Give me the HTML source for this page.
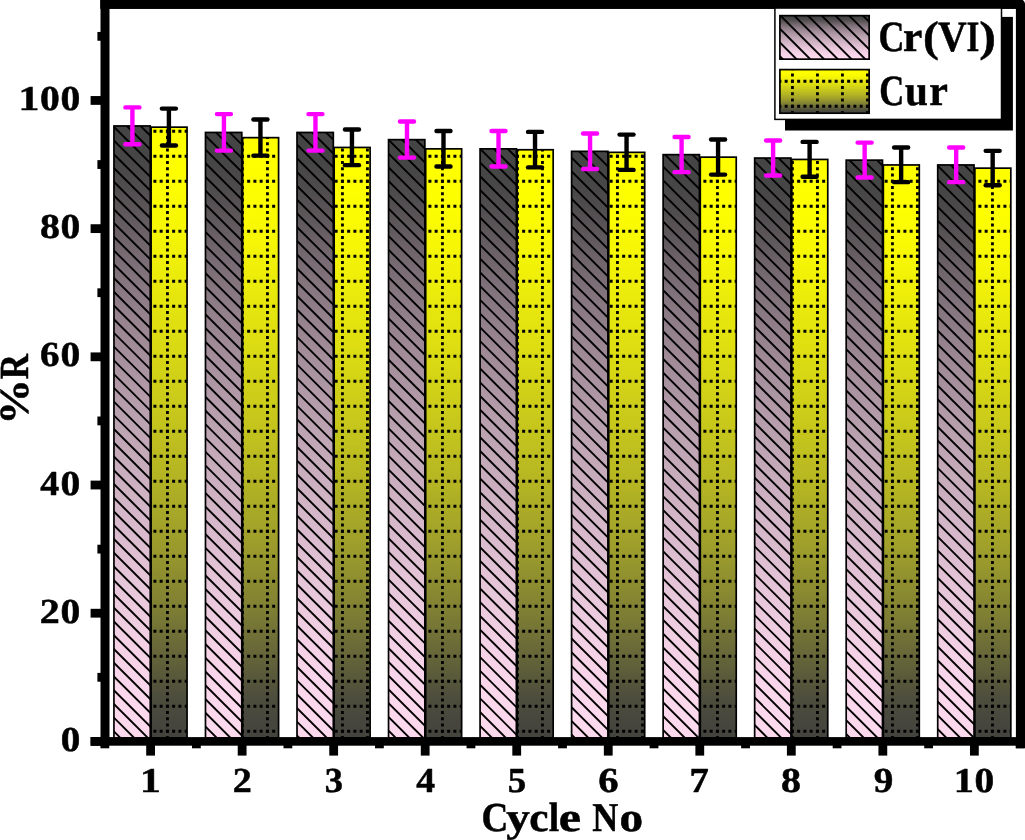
<!DOCTYPE html>
<html><head><meta charset="utf-8"><title>Cycle No vs %R</title>
<style>html,body{margin:0;padding:0;background:#fff;}body{width:1025px;height:840px;overflow:hidden;font-family:"Liberation Serif",serif;}svg{display:block;}text{font-family:"Liberation Serif",serif;font-weight:bold;fill:#000;text-rendering:geometricPrecision;}</style>
</head><body>
<svg width="1025" height="840" viewBox="0 0 1025 840">
<defs>
<linearGradient id="gcr" x1="0" y1="0" x2="0" y2="1">
<stop offset="0.0000" stop-color="#444444"/>
<stop offset="0.0250" stop-color="#454545"/>
<stop offset="0.0500" stop-color="#474646"/>
<stop offset="0.0750" stop-color="#4b494a"/>
<stop offset="0.1000" stop-color="#504d4f"/>
<stop offset="0.1250" stop-color="#595356"/>
<stop offset="0.1500" stop-color="#60595d"/>
<stop offset="0.1750" stop-color="#6b6166"/>
<stop offset="0.2000" stop-color="#74686f"/>
<stop offset="0.2250" stop-color="#7c6e76"/>
<stop offset="0.2500" stop-color="#84757d"/>
<stop offset="0.2750" stop-color="#8b7a84"/>
<stop offset="0.3000" stop-color="#92808a"/>
<stop offset="0.3250" stop-color="#998590"/>
<stop offset="0.3500" stop-color="#9f8a96"/>
<stop offset="0.3750" stop-color="#a58f9c"/>
<stop offset="0.4000" stop-color="#aa94a1"/>
<stop offset="0.4250" stop-color="#b098a6"/>
<stop offset="0.4500" stop-color="#b59dab"/>
<stop offset="0.4750" stop-color="#baa1af"/>
<stop offset="0.5000" stop-color="#bea5b4"/>
<stop offset="0.5250" stop-color="#c3a8b8"/>
<stop offset="0.5500" stop-color="#c7acbc"/>
<stop offset="0.5750" stop-color="#cbafc0"/>
<stop offset="0.6000" stop-color="#cfb3c3"/>
<stop offset="0.6250" stop-color="#d3b6c7"/>
<stop offset="0.6500" stop-color="#d7b9cb"/>
<stop offset="0.6750" stop-color="#dbbcce"/>
<stop offset="0.7000" stop-color="#dfc0d2"/>
<stop offset="0.7250" stop-color="#e3c3d5"/>
<stop offset="0.7500" stop-color="#e6c6d9"/>
<stop offset="0.7750" stop-color="#eac9dc"/>
<stop offset="0.8000" stop-color="#edccdf"/>
<stop offset="0.8250" stop-color="#f1cfe2"/>
<stop offset="0.8500" stop-color="#f4d1e5"/>
<stop offset="0.8750" stop-color="#f6d3e7"/>
<stop offset="0.9000" stop-color="#f8d5ea"/>
<stop offset="0.9250" stop-color="#fbd7ec"/>
<stop offset="0.9500" stop-color="#fcd8ed"/>
<stop offset="0.9750" stop-color="#fdd9ee"/>
<stop offset="1.0000" stop-color="#fdd9ee"/>
</linearGradient>
<linearGradient id="gcu" x1="0" y1="0" x2="0" y2="1">
<stop offset="0.0000" stop-color="#ffff00"/>
<stop offset="0.0250" stop-color="#ffff00"/>
<stop offset="0.0500" stop-color="#fefe00"/>
<stop offset="0.0750" stop-color="#fefe01"/>
<stop offset="0.1000" stop-color="#fcfc02"/>
<stop offset="0.1250" stop-color="#fafa03"/>
<stop offset="0.1500" stop-color="#f8f804"/>
<stop offset="0.1750" stop-color="#f5f506"/>
<stop offset="0.2000" stop-color="#f1f108"/>
<stop offset="0.2250" stop-color="#eeee0a"/>
<stop offset="0.2500" stop-color="#eaea0c"/>
<stop offset="0.2750" stop-color="#e6e60d"/>
<stop offset="0.3000" stop-color="#e3e30f"/>
<stop offset="0.3250" stop-color="#dfdf11"/>
<stop offset="0.3500" stop-color="#dbdb13"/>
<stop offset="0.3750" stop-color="#d7d715"/>
<stop offset="0.4000" stop-color="#d2d217"/>
<stop offset="0.4250" stop-color="#cece19"/>
<stop offset="0.4500" stop-color="#caca1b"/>
<stop offset="0.4750" stop-color="#c5c51d"/>
<stop offset="0.5000" stop-color="#c1c11f"/>
<stop offset="0.5250" stop-color="#bcbc21"/>
<stop offset="0.5500" stop-color="#b8b822"/>
<stop offset="0.5750" stop-color="#b3b324"/>
<stop offset="0.6000" stop-color="#adad26"/>
<stop offset="0.6250" stop-color="#a8a828"/>
<stop offset="0.6500" stop-color="#a3a32a"/>
<stop offset="0.6750" stop-color="#9d9d2c"/>
<stop offset="0.7000" stop-color="#97972e"/>
<stop offset="0.7250" stop-color="#90902f"/>
<stop offset="0.7500" stop-color="#898931"/>
<stop offset="0.7750" stop-color="#828233"/>
<stop offset="0.8000" stop-color="#7a7a35"/>
<stop offset="0.8250" stop-color="#717137"/>
<stop offset="0.8500" stop-color="#696939"/>
<stop offset="0.8750" stop-color="#61613a"/>
<stop offset="0.9000" stop-color="#58583b"/>
<stop offset="0.9250" stop-color="#4f4f3d"/>
<stop offset="0.9500" stop-color="#4a4a3d"/>
<stop offset="0.9750" stop-color="#46463e"/>
<stop offset="1.0000" stop-color="#44443e"/>
</linearGradient>
<pattern id="grid" patternUnits="userSpaceOnUse" x="0" y="0" width="25" height="25">
<line x1="-2.85" y1="6.25" x2="30" y2="6.25" stroke="#000" stroke-width="2.8" stroke-dasharray="3 3.25"/>
<line x1="17.45" y1="-1.4" x2="17.45" y2="30" stroke="#000" stroke-width="2.8" stroke-dasharray="3 3.25"/>
</pattern>
</defs>
<rect x="0" y="0" width="1025" height="840" fill="#fff"/>
<rect x="113.95" y="125.95" width="36.30" height="612.05" fill="url(#gcr)"/>
<rect x="151.10" y="127.15" width="35.95" height="610.85" fill="url(#gcu)"/>
<rect x="151.10" y="127.15" width="35.95" height="610.85" fill="url(#grid)" stroke="#000" stroke-width="1.7"/>
<rect x="205.48" y="132.45" width="36.30" height="605.55" fill="url(#gcr)"/>
<rect x="242.63" y="137.65" width="35.95" height="600.35" fill="url(#gcu)"/>
<rect x="242.63" y="137.65" width="35.95" height="600.35" fill="url(#grid)" stroke="#000" stroke-width="1.7"/>
<rect x="297.01" y="132.45" width="36.30" height="605.55" fill="url(#gcr)"/>
<rect x="334.16" y="147.45" width="35.95" height="590.55" fill="url(#gcu)"/>
<rect x="334.16" y="147.45" width="35.95" height="590.55" fill="url(#grid)" stroke="#000" stroke-width="1.7"/>
<rect x="388.54" y="139.65" width="36.30" height="598.35" fill="url(#gcr)"/>
<rect x="425.69" y="148.85" width="35.95" height="589.15" fill="url(#gcu)"/>
<rect x="425.69" y="148.85" width="35.95" height="589.15" fill="url(#grid)" stroke="#000" stroke-width="1.7"/>
<rect x="480.07" y="148.85" width="36.30" height="589.15" fill="url(#gcr)"/>
<rect x="517.22" y="149.75" width="35.95" height="588.25" fill="url(#gcu)"/>
<rect x="517.22" y="149.75" width="35.95" height="588.25" fill="url(#grid)" stroke="#000" stroke-width="1.7"/>
<rect x="571.60" y="151.35" width="36.30" height="586.65" fill="url(#gcr)"/>
<rect x="608.75" y="152.35" width="35.95" height="585.65" fill="url(#gcu)"/>
<rect x="608.75" y="152.35" width="35.95" height="585.65" fill="url(#grid)" stroke="#000" stroke-width="1.7"/>
<rect x="663.13" y="154.65" width="36.30" height="583.35" fill="url(#gcr)"/>
<rect x="700.28" y="157.15" width="35.95" height="580.85" fill="url(#gcu)"/>
<rect x="700.28" y="157.15" width="35.95" height="580.85" fill="url(#grid)" stroke="#000" stroke-width="1.7"/>
<rect x="754.66" y="158.05" width="36.30" height="579.95" fill="url(#gcr)"/>
<rect x="791.81" y="159.45" width="35.95" height="578.55" fill="url(#gcu)"/>
<rect x="791.81" y="159.45" width="35.95" height="578.55" fill="url(#grid)" stroke="#000" stroke-width="1.7"/>
<rect x="846.19" y="160.15" width="36.30" height="577.85" fill="url(#gcr)"/>
<rect x="883.34" y="164.95" width="35.95" height="573.05" fill="url(#gcu)"/>
<rect x="883.34" y="164.95" width="35.95" height="573.05" fill="url(#grid)" stroke="#000" stroke-width="1.7"/>
<rect x="937.72" y="164.95" width="36.30" height="573.05" fill="url(#gcr)"/>
<rect x="974.87" y="168.15" width="35.95" height="569.85" fill="url(#gcu)"/>
<rect x="974.87" y="168.15" width="35.95" height="569.85" fill="url(#grid)" stroke="#000" stroke-width="1.7"/>
<clipPath id="crclip">
<rect x="113.95" y="125.95" width="36.30" height="612.05"/>
<rect x="205.48" y="132.45" width="36.30" height="605.55"/>
<rect x="297.01" y="132.45" width="36.30" height="605.55"/>
<rect x="388.54" y="139.65" width="36.30" height="598.35"/>
<rect x="480.07" y="148.85" width="36.30" height="589.15"/>
<rect x="571.60" y="151.35" width="36.30" height="586.65"/>
<rect x="663.13" y="154.65" width="36.30" height="583.35"/>
<rect x="754.66" y="158.05" width="36.30" height="579.95"/>
<rect x="846.19" y="160.15" width="36.30" height="577.85"/>
<rect x="937.72" y="164.95" width="36.30" height="573.05"/>
</clipPath>
<g clip-path="url(#crclip)" stroke="#000" stroke-width="1.9">
<line x1="974.5" y1="120.00" x2="980.0" y2="125.53"/>
<line x1="960.7" y1="120.00" x2="980.0" y2="139.27"/>
<line x1="946.9" y1="120.00" x2="980.0" y2="153.01"/>
<line x1="933.2" y1="120.00" x2="980.0" y2="166.75"/>
<line x1="919.4" y1="120.00" x2="980.0" y2="180.49"/>
<line x1="905.6" y1="120.00" x2="980.0" y2="194.23"/>
<line x1="891.9" y1="120.00" x2="980.0" y2="207.97"/>
<line x1="878.1" y1="120.00" x2="980.0" y2="221.71"/>
<line x1="864.3" y1="120.00" x2="980.0" y2="235.45"/>
<line x1="850.6" y1="120.00" x2="980.0" y2="249.19"/>
<line x1="836.8" y1="120.00" x2="980.0" y2="262.94"/>
<line x1="823.0" y1="120.00" x2="980.0" y2="276.68"/>
<line x1="809.2" y1="120.00" x2="980.0" y2="290.42"/>
<line x1="795.5" y1="120.00" x2="980.0" y2="304.16"/>
<line x1="781.7" y1="120.00" x2="980.0" y2="317.90"/>
<line x1="767.9" y1="120.00" x2="980.0" y2="331.64"/>
<line x1="754.2" y1="120.00" x2="980.0" y2="345.38"/>
<line x1="740.4" y1="120.00" x2="980.0" y2="359.12"/>
<line x1="726.6" y1="120.00" x2="980.0" y2="372.86"/>
<line x1="712.9" y1="120.00" x2="980.0" y2="386.60"/>
<line x1="699.1" y1="120.00" x2="980.0" y2="400.35"/>
<line x1="685.3" y1="120.00" x2="980.0" y2="414.09"/>
<line x1="671.6" y1="120.00" x2="980.0" y2="427.83"/>
<line x1="657.8" y1="120.00" x2="980.0" y2="441.57"/>
<line x1="644.0" y1="120.00" x2="980.0" y2="455.31"/>
<line x1="630.3" y1="120.00" x2="980.0" y2="469.05"/>
<line x1="616.5" y1="120.00" x2="980.0" y2="482.79"/>
<line x1="602.7" y1="120.00" x2="980.0" y2="496.53"/>
<line x1="589.0" y1="120.00" x2="980.0" y2="510.27"/>
<line x1="575.2" y1="120.00" x2="980.0" y2="524.01"/>
<line x1="561.4" y1="120.00" x2="980.0" y2="537.76"/>
<line x1="547.7" y1="120.00" x2="980.0" y2="551.50"/>
<line x1="533.9" y1="120.00" x2="980.0" y2="565.24"/>
<line x1="520.1" y1="120.00" x2="980.0" y2="578.98"/>
<line x1="506.4" y1="120.00" x2="980.0" y2="592.72"/>
<line x1="492.6" y1="120.00" x2="980.0" y2="606.46"/>
<line x1="478.8" y1="120.00" x2="980.0" y2="620.20"/>
<line x1="465.0" y1="120.00" x2="980.0" y2="633.94"/>
<line x1="451.3" y1="120.00" x2="980.0" y2="647.68"/>
<line x1="437.5" y1="120.00" x2="980.0" y2="661.42"/>
<line x1="423.7" y1="120.00" x2="980.0" y2="675.17"/>
<line x1="410.0" y1="120.00" x2="980.0" y2="688.91"/>
<line x1="396.2" y1="120.00" x2="980.0" y2="702.65"/>
<line x1="382.4" y1="120.00" x2="980.0" y2="716.39"/>
<line x1="368.7" y1="120.00" x2="980.0" y2="730.13"/>
<line x1="354.9" y1="120.00" x2="976.1" y2="740.00"/>
<line x1="341.1" y1="120.00" x2="962.4" y2="740.00"/>
<line x1="327.4" y1="120.00" x2="948.6" y2="740.00"/>
<line x1="313.6" y1="120.00" x2="934.8" y2="740.00"/>
<line x1="299.8" y1="120.00" x2="921.1" y2="740.00"/>
<line x1="286.1" y1="120.00" x2="907.3" y2="740.00"/>
<line x1="272.3" y1="120.00" x2="893.5" y2="740.00"/>
<line x1="258.5" y1="120.00" x2="879.7" y2="740.00"/>
<line x1="244.8" y1="120.00" x2="866.0" y2="740.00"/>
<line x1="231.0" y1="120.00" x2="852.2" y2="740.00"/>
<line x1="217.2" y1="120.00" x2="838.4" y2="740.00"/>
<line x1="203.5" y1="120.00" x2="824.7" y2="740.00"/>
<line x1="189.7" y1="120.00" x2="810.9" y2="740.00"/>
<line x1="175.9" y1="120.00" x2="797.1" y2="740.00"/>
<line x1="162.2" y1="120.00" x2="783.4" y2="740.00"/>
<line x1="148.4" y1="120.00" x2="769.6" y2="740.00"/>
<line x1="134.6" y1="120.00" x2="755.8" y2="740.00"/>
<line x1="120.8" y1="120.00" x2="742.1" y2="740.00"/>
<line x1="110.0" y1="122.91" x2="728.3" y2="740.00"/>
<line x1="110.0" y1="136.66" x2="714.5" y2="740.00"/>
<line x1="110.0" y1="150.40" x2="700.8" y2="740.00"/>
<line x1="110.0" y1="164.14" x2="687.0" y2="740.00"/>
<line x1="110.0" y1="177.88" x2="673.2" y2="740.00"/>
<line x1="110.0" y1="191.62" x2="659.5" y2="740.00"/>
<line x1="110.0" y1="205.36" x2="645.7" y2="740.00"/>
<line x1="110.0" y1="219.10" x2="631.9" y2="740.00"/>
<line x1="110.0" y1="232.84" x2="618.2" y2="740.00"/>
<line x1="110.0" y1="246.58" x2="604.4" y2="740.00"/>
<line x1="110.0" y1="260.32" x2="590.6" y2="740.00"/>
<line x1="110.0" y1="274.07" x2="576.9" y2="740.00"/>
<line x1="110.0" y1="287.81" x2="563.1" y2="740.00"/>
<line x1="110.0" y1="301.55" x2="549.3" y2="740.00"/>
<line x1="110.0" y1="315.29" x2="535.5" y2="740.00"/>
<line x1="110.0" y1="329.03" x2="521.8" y2="740.00"/>
<line x1="110.0" y1="342.77" x2="508.0" y2="740.00"/>
<line x1="110.0" y1="356.51" x2="494.2" y2="740.00"/>
<line x1="110.0" y1="370.25" x2="480.5" y2="740.00"/>
<line x1="110.0" y1="383.99" x2="466.7" y2="740.00"/>
<line x1="110.0" y1="397.73" x2="452.9" y2="740.00"/>
<line x1="110.0" y1="411.48" x2="439.2" y2="740.00"/>
<line x1="110.0" y1="425.22" x2="425.4" y2="740.00"/>
<line x1="110.0" y1="438.96" x2="411.6" y2="740.00"/>
<line x1="110.0" y1="452.70" x2="397.9" y2="740.00"/>
<line x1="110.0" y1="466.44" x2="384.1" y2="740.00"/>
<line x1="110.0" y1="480.18" x2="370.3" y2="740.00"/>
<line x1="110.0" y1="493.92" x2="356.6" y2="740.00"/>
<line x1="110.0" y1="507.66" x2="342.8" y2="740.00"/>
<line x1="110.0" y1="521.40" x2="329.0" y2="740.00"/>
<line x1="110.0" y1="535.14" x2="315.3" y2="740.00"/>
<line x1="110.0" y1="548.89" x2="301.5" y2="740.00"/>
<line x1="110.0" y1="562.63" x2="287.7" y2="740.00"/>
<line x1="110.0" y1="576.37" x2="274.0" y2="740.00"/>
<line x1="110.0" y1="590.11" x2="260.2" y2="740.00"/>
<line x1="110.0" y1="603.85" x2="246.4" y2="740.00"/>
<line x1="110.0" y1="617.59" x2="232.7" y2="740.00"/>
<line x1="110.0" y1="631.33" x2="218.9" y2="740.00"/>
<line x1="110.0" y1="645.07" x2="205.1" y2="740.00"/>
<line x1="110.0" y1="658.81" x2="191.3" y2="740.00"/>
<line x1="110.0" y1="672.55" x2="177.6" y2="740.00"/>
<line x1="110.0" y1="686.30" x2="163.8" y2="740.00"/>
<line x1="110.0" y1="700.04" x2="150.0" y2="740.00"/>
<line x1="110.0" y1="713.78" x2="136.3" y2="740.00"/>
<line x1="110.0" y1="727.52" x2="122.5" y2="740.00"/>
</g>
<rect x="113.95" y="125.95" width="36.30" height="612.05" fill="none" stroke="#000" stroke-width="1.7"/>
<rect x="205.48" y="132.45" width="36.30" height="605.55" fill="none" stroke="#000" stroke-width="1.7"/>
<rect x="297.01" y="132.45" width="36.30" height="605.55" fill="none" stroke="#000" stroke-width="1.7"/>
<rect x="388.54" y="139.65" width="36.30" height="598.35" fill="none" stroke="#000" stroke-width="1.7"/>
<rect x="480.07" y="148.85" width="36.30" height="589.15" fill="none" stroke="#000" stroke-width="1.7"/>
<rect x="571.60" y="151.35" width="36.30" height="586.65" fill="none" stroke="#000" stroke-width="1.7"/>
<rect x="663.13" y="154.65" width="36.30" height="583.35" fill="none" stroke="#000" stroke-width="1.7"/>
<rect x="754.66" y="158.05" width="36.30" height="579.95" fill="none" stroke="#000" stroke-width="1.7"/>
<rect x="846.19" y="160.15" width="36.30" height="577.85" fill="none" stroke="#000" stroke-width="1.7"/>
<rect x="937.72" y="164.95" width="36.30" height="573.05" fill="none" stroke="#000" stroke-width="1.7"/>
<g stroke="#ff00ff" stroke-width="4.4" stroke-linecap="round" fill="none">
<line x1="132.40" y1="107.38" x2="132.40" y2="144.32" stroke-linecap="butt"/>
<line x1="125.40" y1="107.38" x2="139.40" y2="107.38"/>
<line x1="125.40" y1="144.32" x2="139.40" y2="144.32"/>
</g>
<g stroke="#000" stroke-width="4.4" stroke-linecap="round" fill="none">
<line x1="168.90" y1="108.62" x2="168.90" y2="145.48" stroke-linecap="butt"/>
<line x1="161.90" y1="108.62" x2="175.90" y2="108.62"/>
<line x1="161.90" y1="145.48" x2="175.90" y2="145.48"/>
</g>
<g stroke="#ff00ff" stroke-width="4.4" stroke-linecap="round" fill="none">
<line x1="223.93" y1="114.08" x2="223.93" y2="150.62" stroke-linecap="butt"/>
<line x1="216.93" y1="114.08" x2="230.93" y2="114.08"/>
<line x1="216.93" y1="150.62" x2="230.93" y2="150.62"/>
</g>
<g stroke="#000" stroke-width="4.4" stroke-linecap="round" fill="none">
<line x1="260.43" y1="119.43" x2="260.43" y2="155.67" stroke-linecap="butt"/>
<line x1="253.43" y1="119.43" x2="267.43" y2="119.43"/>
<line x1="253.43" y1="155.67" x2="267.43" y2="155.67"/>
</g>
<g stroke="#ff00ff" stroke-width="4.4" stroke-linecap="round" fill="none">
<line x1="315.46" y1="114.08" x2="315.46" y2="150.62" stroke-linecap="butt"/>
<line x1="308.46" y1="114.08" x2="322.46" y2="114.08"/>
<line x1="308.46" y1="150.62" x2="322.46" y2="150.62"/>
</g>
<g stroke="#000" stroke-width="4.4" stroke-linecap="round" fill="none">
<line x1="351.96" y1="129.53" x2="351.96" y2="165.17" stroke-linecap="butt"/>
<line x1="344.96" y1="129.53" x2="358.96" y2="129.53"/>
<line x1="344.96" y1="165.17" x2="358.96" y2="165.17"/>
</g>
<g stroke="#ff00ff" stroke-width="4.4" stroke-linecap="round" fill="none">
<line x1="406.99" y1="121.49" x2="406.99" y2="157.61" stroke-linecap="butt"/>
<line x1="399.99" y1="121.49" x2="413.99" y2="121.49"/>
<line x1="399.99" y1="157.61" x2="413.99" y2="157.61"/>
</g>
<g stroke="#000" stroke-width="4.4" stroke-linecap="round" fill="none">
<line x1="443.49" y1="130.97" x2="443.49" y2="166.53" stroke-linecap="butt"/>
<line x1="436.49" y1="130.97" x2="450.49" y2="130.97"/>
<line x1="436.49" y1="166.53" x2="450.49" y2="166.53"/>
</g>
<g stroke="#ff00ff" stroke-width="4.4" stroke-linecap="round" fill="none">
<line x1="498.52" y1="130.97" x2="498.52" y2="166.53" stroke-linecap="butt"/>
<line x1="491.52" y1="130.97" x2="505.52" y2="130.97"/>
<line x1="491.52" y1="166.53" x2="505.52" y2="166.53"/>
</g>
<g stroke="#000" stroke-width="4.4" stroke-linecap="round" fill="none">
<line x1="535.02" y1="131.90" x2="535.02" y2="167.40" stroke-linecap="butt"/>
<line x1="528.02" y1="131.90" x2="542.02" y2="131.90"/>
<line x1="528.02" y1="167.40" x2="542.02" y2="167.40"/>
</g>
<g stroke="#ff00ff" stroke-width="4.4" stroke-linecap="round" fill="none">
<line x1="590.05" y1="133.55" x2="590.05" y2="168.95" stroke-linecap="butt"/>
<line x1="583.05" y1="133.55" x2="597.05" y2="133.55"/>
<line x1="583.05" y1="168.95" x2="597.05" y2="168.95"/>
</g>
<g stroke="#000" stroke-width="4.4" stroke-linecap="round" fill="none">
<line x1="626.55" y1="134.58" x2="626.55" y2="169.92" stroke-linecap="butt"/>
<line x1="619.55" y1="134.58" x2="633.55" y2="134.58"/>
<line x1="619.55" y1="169.92" x2="633.55" y2="169.92"/>
</g>
<g stroke="#ff00ff" stroke-width="4.4" stroke-linecap="round" fill="none">
<line x1="681.58" y1="136.94" x2="681.58" y2="172.16" stroke-linecap="butt"/>
<line x1="674.58" y1="136.94" x2="688.58" y2="136.94"/>
<line x1="674.58" y1="172.16" x2="688.58" y2="172.16"/>
</g>
<g stroke="#000" stroke-width="4.4" stroke-linecap="round" fill="none">
<line x1="718.08" y1="139.52" x2="718.08" y2="174.58" stroke-linecap="butt"/>
<line x1="711.08" y1="139.52" x2="725.08" y2="139.52"/>
<line x1="711.08" y1="174.58" x2="725.08" y2="174.58"/>
</g>
<g stroke="#ff00ff" stroke-width="4.4" stroke-linecap="round" fill="none">
<line x1="773.11" y1="140.45" x2="773.11" y2="175.45" stroke-linecap="butt"/>
<line x1="766.11" y1="140.45" x2="780.11" y2="140.45"/>
<line x1="766.11" y1="175.45" x2="780.11" y2="175.45"/>
</g>
<g stroke="#000" stroke-width="4.4" stroke-linecap="round" fill="none">
<line x1="809.61" y1="141.89" x2="809.61" y2="176.81" stroke-linecap="butt"/>
<line x1="802.61" y1="141.89" x2="816.61" y2="141.89"/>
<line x1="802.61" y1="176.81" x2="816.61" y2="176.81"/>
</g>
<g stroke="#ff00ff" stroke-width="4.4" stroke-linecap="round" fill="none">
<line x1="864.64" y1="142.61" x2="864.64" y2="177.49" stroke-linecap="butt"/>
<line x1="857.64" y1="142.61" x2="871.64" y2="142.61"/>
<line x1="857.64" y1="177.49" x2="871.64" y2="177.49"/>
</g>
<g stroke="#000" stroke-width="4.4" stroke-linecap="round" fill="none">
<line x1="901.14" y1="147.55" x2="901.14" y2="182.15" stroke-linecap="butt"/>
<line x1="894.14" y1="147.55" x2="908.14" y2="147.55"/>
<line x1="894.14" y1="182.15" x2="908.14" y2="182.15"/>
</g>
<g stroke="#ff00ff" stroke-width="4.4" stroke-linecap="round" fill="none">
<line x1="956.17" y1="147.55" x2="956.17" y2="182.15" stroke-linecap="butt"/>
<line x1="949.17" y1="147.55" x2="963.17" y2="147.55"/>
<line x1="949.17" y1="182.15" x2="963.17" y2="182.15"/>
</g>
<g stroke="#000" stroke-width="4.4" stroke-linecap="round" fill="none">
<line x1="992.67" y1="150.85" x2="992.67" y2="185.25" stroke-linecap="butt"/>
<line x1="985.67" y1="150.85" x2="999.67" y2="150.85"/>
<line x1="985.67" y1="185.25" x2="999.67" y2="185.25"/>
</g>
<g fill="#000">
<rect x="100.5" y="0" width="9" height="745.5"/>
<rect x="100.5" y="0" width="924.5" height="8.8"/>
<rect x="1015.9" y="0" width="12" height="748.2"/>
<rect x="90.6" y="737.1" width="935" height="8.6"/>
<rect x="90.6" y="737.00" width="11" height="8.8"/>
<rect x="90.6" y="608.81" width="11" height="8.8"/>
<rect x="90.6" y="480.62" width="11" height="8.8"/>
<rect x="90.6" y="352.43" width="11" height="8.8"/>
<rect x="90.6" y="224.24" width="11" height="8.8"/>
<rect x="90.6" y="96.05" width="11" height="8.8"/>
<rect x="97.4" y="672.90" width="4" height="8.8"/>
<rect x="97.4" y="544.72" width="4" height="8.8"/>
<rect x="97.4" y="416.52" width="4" height="8.8"/>
<rect x="97.4" y="288.33" width="4" height="8.8"/>
<rect x="97.4" y="160.14" width="4" height="8.8"/>
<rect x="97.4" y="31.95" width="4" height="8.8"/>
<rect x="146.20" y="744" width="8.8" height="11.6"/>
<rect x="237.73" y="744" width="8.8" height="11.6"/>
<rect x="329.26" y="744" width="8.8" height="11.6"/>
<rect x="420.79" y="744" width="8.8" height="11.6"/>
<rect x="512.32" y="744" width="8.8" height="11.6"/>
<rect x="603.85" y="744" width="8.8" height="11.6"/>
<rect x="695.38" y="744" width="8.8" height="11.6"/>
<rect x="786.91" y="744" width="8.8" height="11.6"/>
<rect x="878.44" y="744" width="8.8" height="11.6"/>
<rect x="969.97" y="744" width="8.8" height="11.6"/>
<rect x="100.43" y="744" width="8.8" height="4.3"/>
<rect x="191.97" y="744" width="8.8" height="4.3"/>
<rect x="283.50" y="744" width="8.8" height="4.3"/>
<rect x="375.02" y="744" width="8.8" height="4.3"/>
<rect x="466.56" y="744" width="8.8" height="4.3"/>
<rect x="558.09" y="744" width="8.8" height="4.3"/>
<rect x="649.62" y="744" width="8.8" height="4.3"/>
<rect x="741.15" y="744" width="8.8" height="4.3"/>
<rect x="832.68" y="744" width="8.8" height="4.3"/>
<rect x="924.21" y="744" width="8.8" height="4.3"/>
<rect x="1015.74" y="744" width="8.8" height="4.3"/>
</g>
<rect x="785" y="16.9" width="227.9" height="113.6" fill="#000"/>
<rect x="774.9" y="4" width="226.6" height="115.4" fill="#fff" stroke="#000" stroke-width="1.5"/>
<rect x="100.5" y="0" width="924.5" height="8.8" fill="#000"/>
<path d="M1022.8 0 L1025 0 L1025 3.4 Q1024.6 1.2 1022.8 0 Z" fill="#fff"/>
<rect x="779.90" y="15.65" width="89.25" height="43.50" fill="url(#gcr)"/>
<clipPath id="lgclip"><rect x="779.90" y="15.65" width="89.25" height="43.50"/></clipPath>
<g clip-path="url(#lgclip)" stroke="#000" stroke-width="1.9">
<line x1="775.0" y1="-86.04" x2="875.0" y2="13.96"/>
<line x1="775.0" y1="-72.30" x2="875.0" y2="27.70"/>
<line x1="775.0" y1="-58.56" x2="875.0" y2="41.44"/>
<line x1="775.0" y1="-44.82" x2="875.0" y2="55.18"/>
<line x1="775.0" y1="-31.08" x2="875.0" y2="68.92"/>
<line x1="775.0" y1="-17.34" x2="875.0" y2="82.66"/>
<line x1="775.0" y1="-3.59" x2="875.0" y2="96.41"/>
<line x1="775.0" y1="10.15" x2="875.0" y2="110.15"/>
<line x1="775.0" y1="23.89" x2="875.0" y2="123.89"/>
<line x1="775.0" y1="37.63" x2="875.0" y2="137.63"/>
<line x1="775.0" y1="51.37" x2="875.0" y2="151.37"/>
</g>
<rect x="779.90" y="15.65" width="89.25" height="43.50" fill="none" stroke="#000" stroke-width="1.7"/>
<rect x="779.90" y="69.60" width="89.25" height="43.60" fill="url(#gcu)"/>
<rect x="779.90" y="69.60" width="89.25" height="43.60" fill="url(#grid)" stroke="#000" stroke-width="1.7"/>
<g style="opacity:0.999" stroke="#000" stroke-width="0.5" stroke-linejoin="round">
<text transform="translate(878.50,51.20) scale(0.8364,1)" font-size="43">C</text>
<text transform="translate(903.10,51.20) scale(1.0127,1)" font-size="43">r</text>
<text transform="translate(923.06,51.20) scale(1.1035,1)" font-size="43">(</text>
<text transform="translate(937.90,51.20) scale(0.9236,1)" font-size="43">V</text>
<text transform="translate(966.43,51.20) scale(0.7644,1)" font-size="43">I</text>
<text transform="translate(979.27,51.20) scale(1.1650,1)" font-size="43">)</text>
<text transform="translate(879.37,105.30) scale(0.8052,1)" font-size="43">C</text>
<text transform="translate(904.98,105.30) scale(0.9573,1)" font-size="43">u</text>
<text transform="translate(929.34,105.30) scale(0.9773,1)" font-size="43">r</text>
<text transform="translate(60.74,751.00) scale(1.1160,1)" font-size="35">0</text>
<text transform="translate(39.70,622.81) scale(1.1429,1)" font-size="35">2</text>
<text transform="translate(60.52,622.81) scale(1.1294,1)" font-size="35">0</text>
<text transform="translate(40.13,494.62) scale(1.0821,1)" font-size="35">4</text>
<text transform="translate(60.52,494.62) scale(1.1294,1)" font-size="35">0</text>
<text transform="translate(40.03,366.43) scale(1.1166,1)" font-size="35">6</text>
<text transform="translate(60.52,366.43) scale(1.1294,1)" font-size="35">0</text>
<text transform="translate(39.90,238.24) scale(1.1429,1)" font-size="35">8</text>
<text transform="translate(60.52,238.24) scale(1.1294,1)" font-size="35">0</text>
<text transform="translate(18.47,110.05) scale(1.1895,1)" font-size="35">1</text>
<text transform="translate(39.92,110.05) scale(1.1294,1)" font-size="35">0</text>
<text transform="translate(60.62,110.05) scale(1.1294,1)" font-size="35">0</text>
<text transform="translate(139.98,792.40) scale(1.1856,1)" font-size="35">1</text>
<text transform="translate(232.68,792.40) scale(1.0878,1)" font-size="35">2</text>
<text transform="translate(324.73,792.40) scale(1.0426,1)" font-size="35">3</text>
<text transform="translate(416.33,792.40) scale(1.0760,1)" font-size="35">4</text>
<text transform="translate(507.72,792.40) scale(1.0549,1)" font-size="35">5</text>
<text transform="translate(598.18,792.40) scale(1.1626,1)" font-size="35">6</text>
<text transform="translate(689.48,792.40) scale(1.1018,1)" font-size="35">7</text>
<text transform="translate(780.90,792.40) scale(1.1429,1)" font-size="35">8</text>
<text transform="translate(873.83,792.40) scale(1.1167,1)" font-size="35">9</text>
<text transform="translate(953.68,792.40) scale(1.1506,1)" font-size="35">1</text>
<text transform="translate(974.53,792.40) scale(1.1227,1)" font-size="35">0</text>
<text transform="translate(481.54,831.20) scale(0.9059,1)" font-size="41">C</text>
<text transform="translate(506.33,831.20) scale(1.1484,1)" font-size="41">y</text>
<text transform="translate(529.18,831.20) scale(1.0580,1)" font-size="41">c</text>
<text transform="translate(548.75,831.20) scale(0.9146,1)" font-size="41">l</text>
<text transform="translate(558.84,831.20) scale(1.2243,1)" font-size="41">e</text>
<text transform="translate(592.28,831.20) scale(0.8802,1)" font-size="41">N</text>
<text transform="translate(619.43,831.20) scale(1.1535,1)" font-size="41">o</text>
<text transform="translate(28.10,424.69) rotate(-90) scale(1.1046,1)" font-size="41.4">%</text>
<text transform="translate(28.10,379.21) rotate(-90) scale(0.8407,1)" font-size="41.4">R</text>
</g>
</svg></body></html>
